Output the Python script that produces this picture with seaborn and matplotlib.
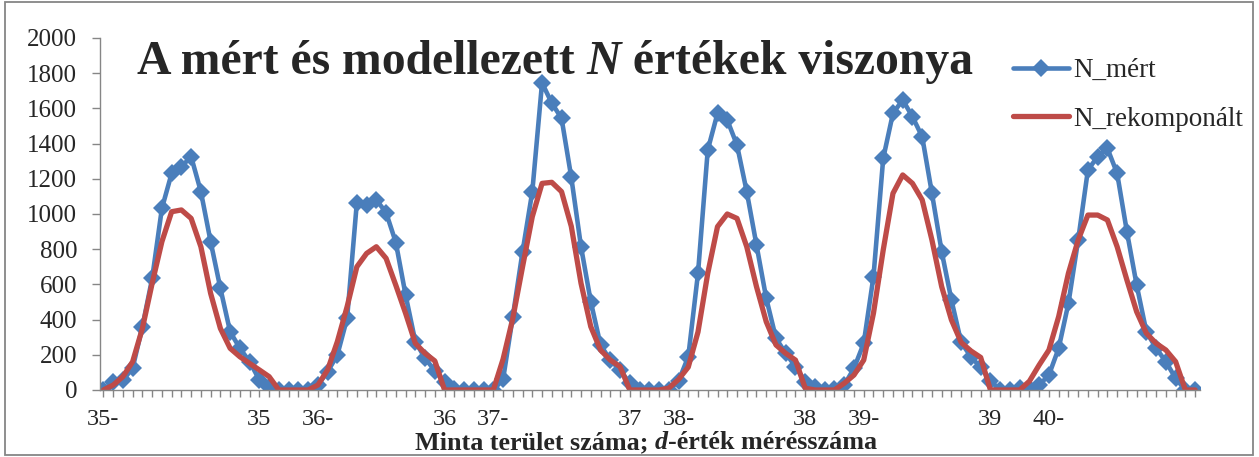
import matplotlib
matplotlib.use("Agg")
import matplotlib.pyplot as plt
from matplotlib.patches import Rectangle
from matplotlib.ticker import FixedLocator, MultipleLocator
import numpy as np
import seaborn as sns

# === Data ===
n_mert = [
    0, 45, 55, 125, 360, 634, 1032, 1231, 1269, 1326,
    1127, 843, 578, 331, 237, 161, 57, 19, 0, 0,
    0, 0, 28, 104, 199, 407, 1065, 1051, 1080, 1008,
    838, 540, 275, 180, 110, 45, 8, 0, 0, 0,
    0, 60, 417, 786, 1127, 1745, 1630, 1544, 1208, 814,
    502, 256, 170, 114, 38, 0, 0, 0, 0, 50,
    189, 663, 1364, 1572, 1534, 1392, 1127, 824, 521, 294,
    208, 133, 47, 15, 0, 5, 28, 123, 265, 644,
    1316, 1572, 1648, 1553, 1439, 1117, 786, 511, 270, 189,
    128, 52, 0, 0, 10, 10, 28, 85, 237, 492,
    852, 1250, 1326, 1373, 1231, 900, 597, 331, 237, 161,
    66, 0, 0,
]
n_rekomponalt = [
    0, 28, 76, 161, 350, 606, 843, 1013, 1023, 975,
    814, 549, 350, 237, 189, 151, 114, 76, 0, 0,
    0, 0, 28, 114, 275, 473, 700, 776, 814, 748,
    595, 436, 265, 208, 165, 0, 0, 0, 0, 0,
    0, 175, 407, 700, 985, 1174, 1180, 1127, 930, 606,
    360, 227, 170, 133, 0, 0, 0, 0, 10, 60,
    130, 330, 663, 928, 1000, 975, 814, 587, 388, 256,
    208, 170, 10, 0, 0, 0, 38, 85, 170, 436,
    795, 1117, 1222, 1174, 1080, 852, 587, 398, 270, 222,
    185, 0, 0, 0, 0, 50, 142, 227, 417, 663,
    852, 994, 994, 966, 814, 625, 445, 322, 265, 227,
    161, 0, 0,
]
label_pos = [0, 16, 22, 35, 40, 54, 59, 72, 78, 91, 97]
label_txt = ["35-", "35", "36-", "36", "37-", "37", "38-", "38", "39-", "39", "40-"]

idx = np.arange(len(n_mert))

# === Style ===
sns.set_style("white")
plt.rcParams["font.family"] = ["Liberation Serif", "DejaVu Serif"]

blue = "#4a7ebb"
red = "#be4b48"
grey = "#868686"

W, H = 1259, 457
fig = plt.figure(figsize=(W / 100, H / 100), dpi=100)
ax = fig.add_axes([100 / W, 1 - 390 / H, 1100 / W, 352 / H])

sns.lineplot(x=idx, y=n_mert, ax=ax, color=blue, linewidth=3.3,
             marker="D", markersize=9.5, markeredgewidth=0, label="N_mért")
sns.lineplot(x=idx, y=n_rekomponalt, ax=ax, color=red, linewidth=3.8,
             label="N_rekomponált")

ax.set_xlim(-0.35, 112.5)
ax.set_ylim(0, 2000)
ax.yaxis.set_major_locator(MultipleLocator(200))
ax.xaxis.set_major_locator(FixedLocator(label_pos))
ax.set_xticklabels(label_txt)
ax.xaxis.set_minor_locator(FixedLocator(idx))

for side in ["top", "right"]:
    ax.spines[side].set_visible(False)
for side in ["left", "bottom"]:
    ax.spines[side].set_color(grey)
    ax.spines[side].set_linewidth(1.0)

ax.tick_params(axis="y", which="major", direction="out", length=6, width=1,
               color=grey, labelsize=18, pad=10.5, left=True)
ax.tick_params(axis="x", which="both", direction="out", length=5, width=1,
               color=grey, labelsize=17.5, pad=8.5, bottom=True)
ax.set_xlabel("")
ax.set_ylabel("")

leg = ax.legend(loc="upper left", bbox_to_anchor=(1013 / W, 1 - 58 / H),
                bbox_transform=fig.transFigure, frameon=False, fontsize=19.5,
                handlelength=2.05, handletextpad=0.18, labelspacing=0.88,
                borderpad=0, borderaxespad=0)


def draw_pieces(x, y, pieces, **kw):
    renderer = fig.canvas.get_renderer()
    for s, style in pieces:
        t = fig.text(x, y, s, fontstyle=style, va="baseline", ha="left", **kw)
        bb = t.get_window_extent(renderer=renderer)
        x += bb.width / fig.bbox.width


# title inside the plot area
draw_pieces(137 / W, 1 - 74 / H,
            [("A mért és modellezett ", "normal"), ("N", "italic"),
             (" értékek viszonya", "normal")],
            fontsize=34.3, fontweight="bold")

# x axis title
draw_pieces(415 / W, 1 - 449 / H,
            [("Minta terület száma; ", "normal"), ("d", "italic"),
             ("-érték mérésszáma", "normal")],
            fontsize=18.8, fontweight="bold")

# chart border
fig.patches.append(Rectangle((5 / W, 2 / H), 1248 / W, 453 / H,
                             transform=fig.transFigure, fill=False,
                             edgecolor=grey, linewidth=1.3))

fig.savefig("out.png", dpi=100)
